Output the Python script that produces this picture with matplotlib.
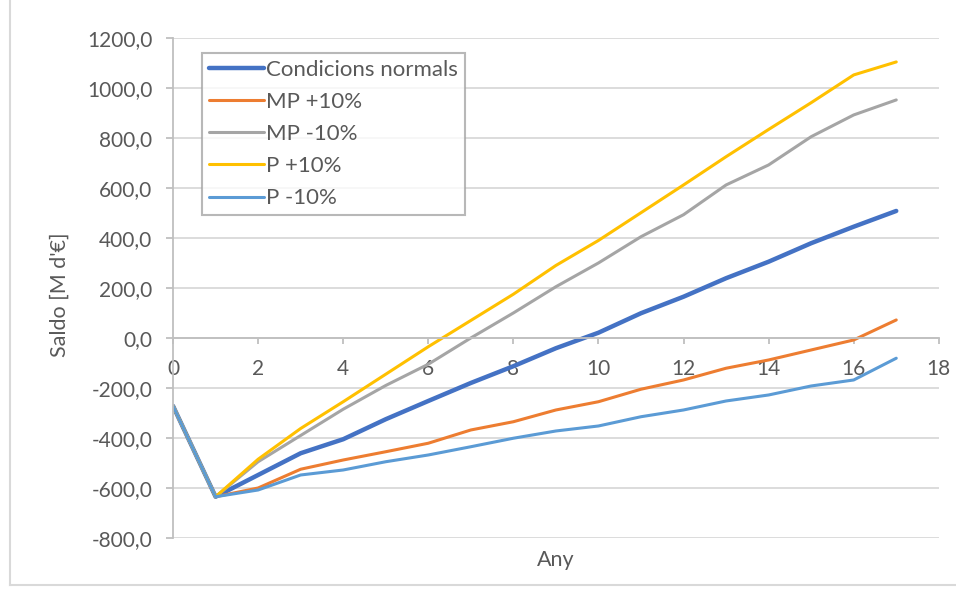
import matplotlib.pyplot as plt
from matplotlib.lines import Line2D
from matplotlib.ticker import FuncFormatter

plt.rcParams['font.family'] = ['Lato', 'DejaVu Sans']

# Dades
anys = list(range(18))
condicions_normals = [-272, -635, -548, -461, -405, -325, -252, -180, -113, -41, 21, 99,
                      165, 239, 305, 379, 445, 508]
mp_mes10 = [-272, -635, -600, -525, -488, -455, -421, -368, -335, -288, -255, -205,
            -168, -121, -88, -48, -8, 72]
mp_menys10 = [-272, -635, -495, -390, -285, -190, -105, 0, 100, 205, 300, 405,
              493, 612, 692, 805, 892, 952]
p_mes10 = [-272, -635, -485, -362, -255, -145, -35, 70, 175, 290, 390, 501,
           612, 725, 834, 941, 1052, 1104]
p_menys10 = [-272, -635, -608, -548, -528, -495, -468, -435, -401, -372, -352, -315,
             -288, -252, -228, -192, -168, -81]

series = [
    ("Condicions normals", condicions_normals, '#4472C4', 3.2),
    ("MP +10%", mp_mes10, '#ED7D31', 2.2),
    ("MP -10%", mp_menys10, '#A5A5A5', 2.2),
    ("P +10%", p_mes10, '#FFC000', 2.2),
    ("P -10%", p_menys10, '#5B9BD5', 2.2),
]

text_color = '#595959'
grid_color = '#d9d9d9'
axis_color = '#bfbfbf'

fig = plt.figure(figsize=(9.56, 5.89), dpi=100)
ax = fig.add_axes([0.181, 0.0866, 0.801, 0.849])

for nom, valors, color, lw in series:
    ax.plot(anys, valors, color=color, lw=lw, label=nom, solid_capstyle='round')

# Eixos
ax.set_xlim(0, 18)
ax.set_ylim(-800, 1200)
ax.set_xticks(range(0, 19, 2))
ax.set_yticks(range(-800, 1201, 200))
ax.yaxis.set_major_formatter(FuncFormatter(lambda v, p: f"{v:.1f}".replace('.', ',')))

ax.spines['top'].set_visible(False)
ax.spines['right'].set_visible(False)
ax.spines['bottom'].set_position(('data', 0))
ax.spines['bottom'].set_color(axis_color)
ax.spines['left'].set_color(axis_color)
ax.spines['bottom'].set_linewidth(1.3)
ax.spines['left'].set_linewidth(1.3)

ax.yaxis.grid(True, color=grid_color, lw=1.3)
ax.set_axisbelow(True)

ax.tick_params(axis='x', colors=axis_color, labelcolor=text_color, labelsize=15,
               length=4, width=1.3, pad=11)
ax.tick_params(axis='y', colors=axis_color, labelcolor=text_color, labelsize=15,
               length=5, width=1.3, pad=10)

ax.set_xlabel("Any", color=text_color, fontsize=15.5)
ax.xaxis.set_label_coords(0.5, -0.025)
ax.set_ylabel("Saldo [M d'€]", color=text_color, fontsize=15.5)
ax.yaxis.set_label_coords(-0.135, 0.486)

leg = ax.legend(loc='upper left', bbox_to_anchor=(0.038, 0.97), borderaxespad=0,
                fontsize=16, frameon=True, fancybox=False, handlelength=2.5,
                handletextpad=0.08, labelspacing=0.55, borderpad=0.3)
leg.get_frame().set_edgecolor('#a6a6a6')
leg.get_frame().set_linewidth(1.5)
for t in leg.get_texts():
    t.set_color(text_color)

# Vora del gràfic
fig.add_artist(Line2D([0.0105, 0.0105], [0.006, 1.0], color='#d9d9d9', lw=1.5))
fig.add_artist(Line2D([0.0105, 1.0], [0.006, 0.006], color='#d9d9d9', lw=1.5))

fig.savefig('out.png', dpi=100)
